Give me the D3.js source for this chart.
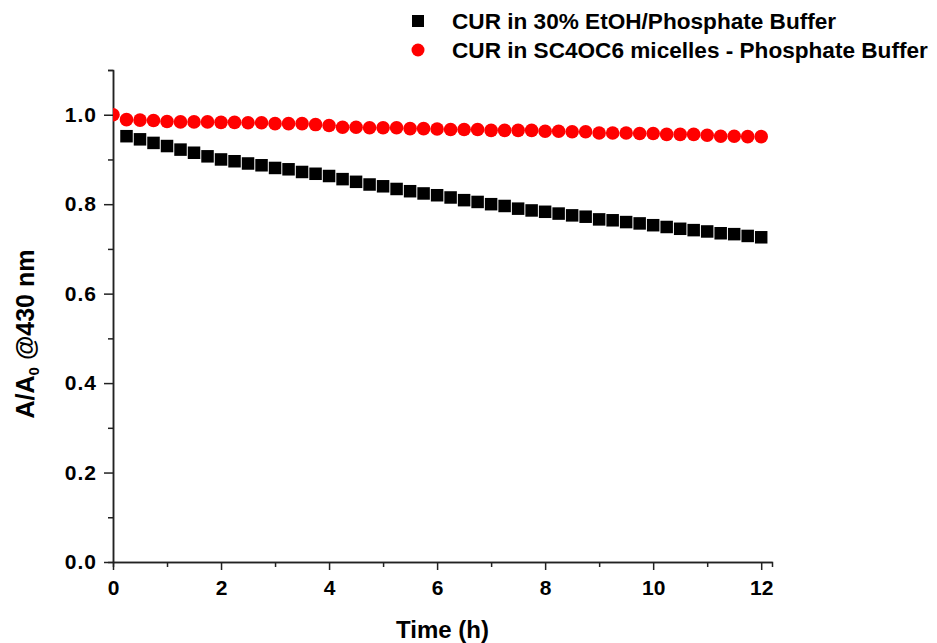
<!DOCTYPE html>
<html>
<head>
<meta charset="utf-8">
<script src="https://cdn.jsdelivr.net/npm/d3@7"></script>
<style>
  body { margin: 0; background: #fff; }
  text { font-family: 'Liberation Sans', Arial, sans-serif; font-weight: bold; }
  .axis path, .axis line { stroke: #222; stroke-width: 1.5; }
  .axis text { font-size: 21px; fill: #000; }
  .yaxis text { letter-spacing: 1px; }
</style>
</head>
<body>
<div id="chart"></div>
<script>
// time (h)
let timeBuffer = [0.25, 0.5, 0.75, 1, 1.25, 1.5, 1.75, 2, 2.25, 2.5, 2.75, 3, 3.25, 3.5, 3.75, 4,
  4.25, 4.5, 4.75, 5, 5.25, 5.5, 5.75, 6, 6.25, 6.5, 6.75, 7, 7.25, 7.5, 7.75, 8,
  8.25, 8.5, 8.75, 9, 9.25, 9.5, 9.75, 10, 10.25, 10.5, 10.75, 11, 11.25, 11.5, 11.75, 12]
let valBuffer = [0.952, 0.945, 0.937, 0.930, 0.922, 0.915, 0.907, 0.900, 0.896, 0.891, 0.887, 0.881, 0.878, 0.872, 0.868, 0.863,
  0.856, 0.850, 0.844, 0.840, 0.834, 0.829, 0.824, 0.820, 0.815, 0.809, 0.805, 0.800, 0.796, 0.790, 0.786, 0.783,
  0.779, 0.775, 0.772, 0.766, 0.764, 0.760, 0.757, 0.753, 0.749, 0.745, 0.742, 0.739, 0.735, 0.733, 0.729, 0.726]

let timeMicelle = [0, 0.25, 0.5, 0.75, 1, 1.25, 1.5, 1.75, 2, 2.25, 2.5, 2.75, 3, 3.25, 3.5, 3.75, 4,
  4.25, 4.5, 4.75, 5, 5.25, 5.5, 5.75, 6, 6.25, 6.5, 6.75, 7, 7.25, 7.5, 7.75, 8,
  8.25, 8.5, 8.75, 9, 9.25, 9.5, 9.75, 10, 10.25, 10.5, 10.75, 11, 11.25, 11.5, 11.75, 12]
let valMicelle = [1.0, 0.989, 0.988, 0.987, 0.985, 0.984, 0.984, 0.984, 0.983, 0.983, 0.982, 0.982, 0.980, 0.980, 0.980, 0.978, 0.976,
  0.972, 0.972, 0.971, 0.971, 0.971, 0.969, 0.969, 0.968, 0.967, 0.967, 0.967, 0.965, 0.965, 0.965, 0.965, 0.963,
  0.963, 0.962, 0.962, 0.959, 0.959, 0.959, 0.958, 0.958, 0.956, 0.956, 0.956, 0.954, 0.952, 0.952, 0.951, 0.951]

let seriesNames = ['CUR in 30% EtOH/Phosphate Buffer', 'CUR in SC4OC6 micelles - Phosphate Buffer']
let xMajor = [0, 2, 4, 6, 8, 10, 12]
let xMinor = [1, 3, 5, 7, 9, 11]
let yMajor = [0.0, 0.2, 0.4, 0.6, 0.8, 1.0]
let yMinor = [0.1, 0.3, 0.5, 0.7, 0.9, 1.1]

let margin = { top: 70, left: 113, right: 165, bottom: 81 }
let width = 937 - margin.left - margin.right
let height = 643 - margin.top - margin.bottom

let svg = d3.select('#chart')
  .append('svg')
  .attr('width', 937)
  .attr('height', 643)

let g = svg.append('g')
  .attr('transform', 'translate(' + margin.left + ',' + margin.top + ')')

var xScale = d3.scaleLinear().domain([0, 12.2]).range([0, width])
var yScale = d3.scaleLinear().domain([0, 1.1]).range([height, 0])

svg.append('defs').append('clipPath').attr('id', 'clip')
  .append('rect').attr('x', 0).attr('y', -10).attr('width', width + 10).attr('height', height + 10)

// minor ticks
g.append('g').attr('class', 'axis')
  .attr('transform', 'translate(0,' + height + ')')
  .call(d3.axisBottom(xScale).tickValues(xMinor).tickSize(5).tickFormat(''))
g.append('g').attr('class', 'axis')
  .call(d3.axisLeft(yScale).tickValues(yMinor).tickSize(5).tickFormat(''))

// major ticks
g.append('g').attr('class', 'axis')
  .attr('transform', 'translate(0,' + height + ')')
  .call(d3.axisBottom(xScale).tickValues(xMajor).tickSize(8).tickSizeOuter(0).tickPadding(10).tickFormat(d3.format('d')))
g.append('g').attr('class', 'axis yaxis')
  .call(d3.axisLeft(yScale).tickValues(yMajor).tickSize(9).tickSizeOuter(0).tickPadding(7).tickFormat(d3.format('.1f')))

let plot = g.append('g').attr('clip-path', 'url(#clip)')

let sq = 12.5
plot.selectAll('rect.buf')
  .data(timeBuffer)
  .enter()
  .append('rect')
  .attr('class', 'buf')
  .attr('x', (d, i) => xScale(d) - sq / 2)
  .attr('y', (d, i) => yScale(valBuffer[i]) - sq / 2)
  .attr('width', sq)
  .attr('height', sq)
  .attr('fill', '#000')

plot.selectAll('circle.mic')
  .data(timeMicelle)
  .enter()
  .append('circle')
  .attr('class', 'mic')
  .attr('cx', d => xScale(d))
  .attr('cy', (d, i) => yScale(valMicelle[i]))
  .attr('r', 6.8)
  .attr('fill', '#ff0000')

// axis titles
svg.append('text')
  .attr('x', margin.left + (width) / 2)
  .attr('y', 638)
  .attr('text-anchor', 'middle')
  .attr('font-size', 24)
  .text('Time (h)')

let yt = svg.append('text')
  .attr('transform', 'translate(34,334) rotate(-90)')
  .attr('text-anchor', 'middle')
  .attr('font-size', 25)
yt.append('tspan').text('A/A')
yt.append('tspan').attr('font-size', 15).attr('dy', 5).text('0')
yt.append('tspan').attr('dy', -5).text(' @430 nm')

// legend
let legend = svg.append('g').attr('transform', 'translate(418,0)')
legend.append('rect').attr('x', -6).attr('y', 15).attr('width', 12).attr('height', 12).attr('fill', '#000')
legend.append('circle').attr('cx', 0).attr('cy', 50).attr('r', 6.5).attr('fill', '#ff0000')
legend.append('text').attr('x', 34).attr('y', 29).attr('font-size', 22.6).text(seriesNames[0])
legend.append('text').attr('x', 34).attr('y', 58).attr('font-size', 22.6).text(seriesNames[1])
</script>
</body>
</html>
